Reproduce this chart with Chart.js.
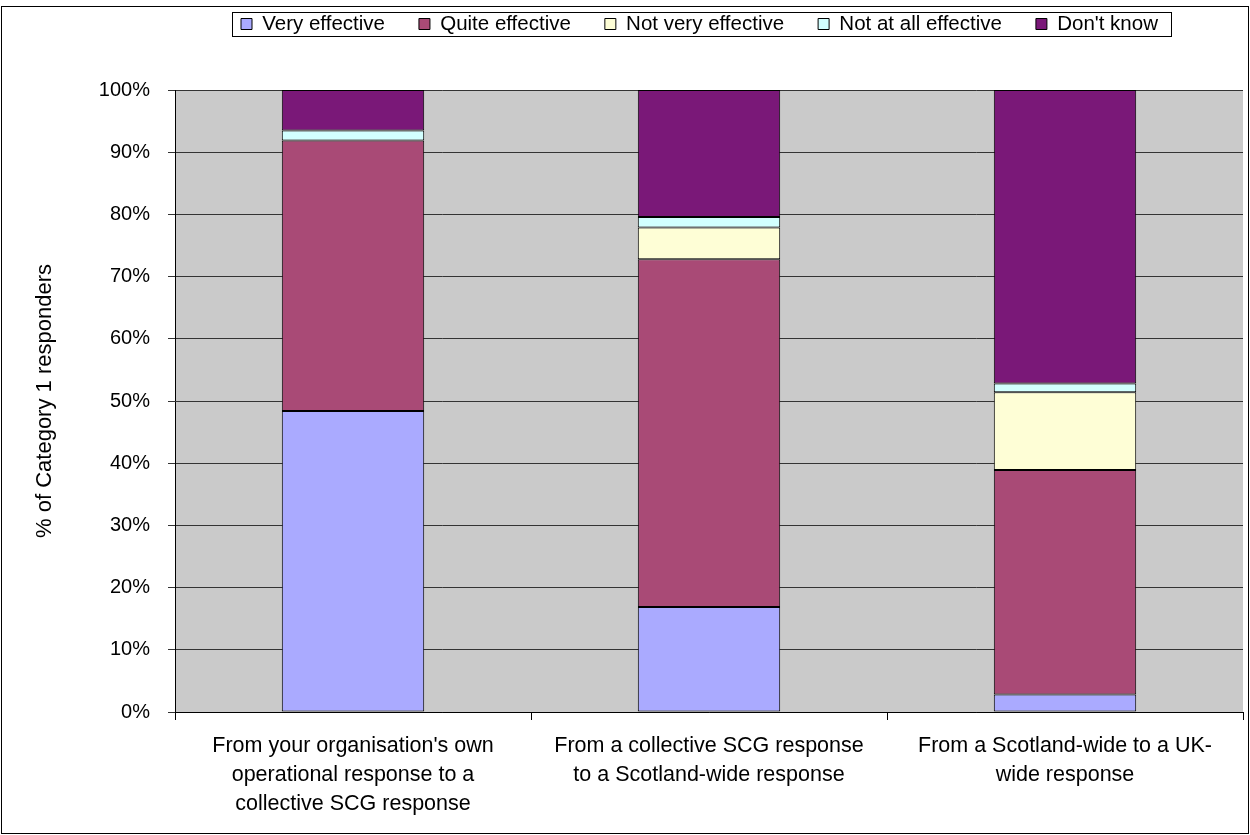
<!DOCTYPE html>
<html>
<head>
<meta charset="utf-8">
<script src="https://cdn.jsdelivr.net/npm/chart.js@4.4.1/dist/chart.umd.min.js"></script>
<style>
	body { margin: 0; background: #fff; }
	canvas { display: block; }
</style>
</head>
<body>
<canvas id="effectiveness-chart" width="1250" height="835"></canvas>
<script>
// Categories (multi-line axis labels)
const categories = [
	["From your organisation's own", 'operational response to a', 'collective SCG response'],
	['From a collective SCG response', 'to a Scotland-wide response'],
	['From a Scotland-wide to a UK-', 'wide response']
];

const seriesNames = ['Very effective', 'Quite effective', 'Not very effective', 'Not at all effective', "Don't know"];

// % of responders per category
const veryEffective = [48.4, 16.9, 2.8];
const quiteEffective = [43.5, 55.9, 36.1];
const notVeryEffective = [0, 5.1, 12.5];
const notAtAllEffective = [1.6, 1.7, 1.4];
const dontKnow = [6.5, 20.4, 47.2];

const yTickLabels = ['0%', '10%', '20%', '30%', '40%', '50%', '60%', '70%', '80%', '90%', '100%'];

const seriesColors = ['#AAAAFF', '#A94A76', '#FEFED6', '#D2FFFF', '#7A1878'];

const FONT = 'Liberation Sans, Arial, sans-serif';
const LEGEND_PAD = 34;
const LEGEND_FONT = 20.5;
// legend block height is font + padding + 10, plot top should land on y=90
const TOP_PAD = 90 - (LEGEND_FONT + LEGEND_PAD + 10);

/* Plot background, outer frame and legend frame */
const framePlugin = {
	id: 'framePlugin',
	afterLayout(chart) {
		// legend row sits in the top strip, first swatch at x=241, text centred on y=24
		const lg = chart.legend;
		const dy = (24 - LEGEND_PAD - LEGEND_FONT / 2) - lg.top;
		const dx = (241 - LEGEND_PAD) - lg.left;
		lg.top += dy; lg.bottom += dy;
		lg.left += dx; lg.right += dx;
	},
	beforeDraw(chart) {
		const { ctx, chartArea: a } = chart;
		ctx.save();
		ctx.fillStyle = '#fff';
		ctx.fillRect(0, 0, chart.width, chart.height);
		ctx.fillStyle = '#CACACA';
		ctx.fillRect(a.left, a.top, a.right - a.left, a.bottom - a.top);
		ctx.restore();
	},
	afterDraw(chart) {
		const ctx = chart.ctx;
		ctx.save();
		ctx.strokeStyle = '#000';
		ctx.lineWidth = 1;
		ctx.strokeRect(1.5, 6.5, chart.width - 3, chart.height - 8);

		const boxes = chart.legend.legendHitBoxes;
		if (boxes && boxes.length) {
			const first = boxes[0];
			const last = boxes[boxes.length - 1];
			const mid = first.top + first.height / 2;
			const left = Math.round(first.left - 9) + 0.5;
			const right = Math.round(last.left + last.width + 13) + 0.5;
			ctx.strokeRect(left, Math.round(mid - 12) + 0.5, right - left, 24);
		}
		ctx.restore();
	}
};

const values = [veryEffective, quiteEffective, notVeryEffective, notAtAllEffective, dontKnow];

new Chart(document.getElementById('effectiveness-chart'), {
	type: 'bar',
	data: {
		labels: categories,
		datasets: seriesNames.map((name, i) => ({
			label: name,
			data: values[i],
			backgroundColor: seriesColors[i],
			borderColor: '#000',
			borderWidth: 1,
			borderSkipped: false,
			barPercentage: 0.4,
			categoryPercentage: 1
		}))
	},
	options: {
		responsive: false,
		animation: false,
		devicePixelRatio: 1,
		layout: { padding: { top: TOP_PAD, right: 7, bottom: 0, left: 0 } },
		plugins: {
			legend: {
				position: 'top',
				align: 'start',
				labels: {
					boxWidth: 11,
					boxHeight: 11,
					padding: LEGEND_PAD,
					color: '#000',
					font: { family: FONT, size: LEGEND_FONT }
				}
			},
			tooltip: { enabled: false }
		},
		scales: {
			x: {
				stacked: true,
				afterFit: scale => { scale.height = 123; },
				grid: {
					offset: true,
					drawOnChartArea: false,
					color: '#000',
					tickLength: 8
				},
				border: { color: '#000' },
				ticks: {
					color: '#000',
					padding: 12,
					maxRotation: 0,
					font: { family: FONT, size: 21.5, lineHeight: 1.35 }
				}
			},
			y: {
				stacked: true,
				min: 0,
				max: 100,
				afterFit: scale => { scale.width = 175; },
				grid: { color: '#333', tickLength: 7 },
				border: { color: '#000' },
				ticks: {
					stepSize: 10,
					color: '#000',
					padding: 18,
					font: { family: FONT, size: 20 },
					callback: (value, index) => yTickLabels[index]
				},
				title: {
					display: true,
					text: '% of Category 1 responders',
					color: '#000',
					padding: { top: 32, bottom: 0 },
					font: { family: FONT, size: 22 }
				}
			}
		}
	},
	plugins: [framePlugin]
});
</script>
</body>
</html>
